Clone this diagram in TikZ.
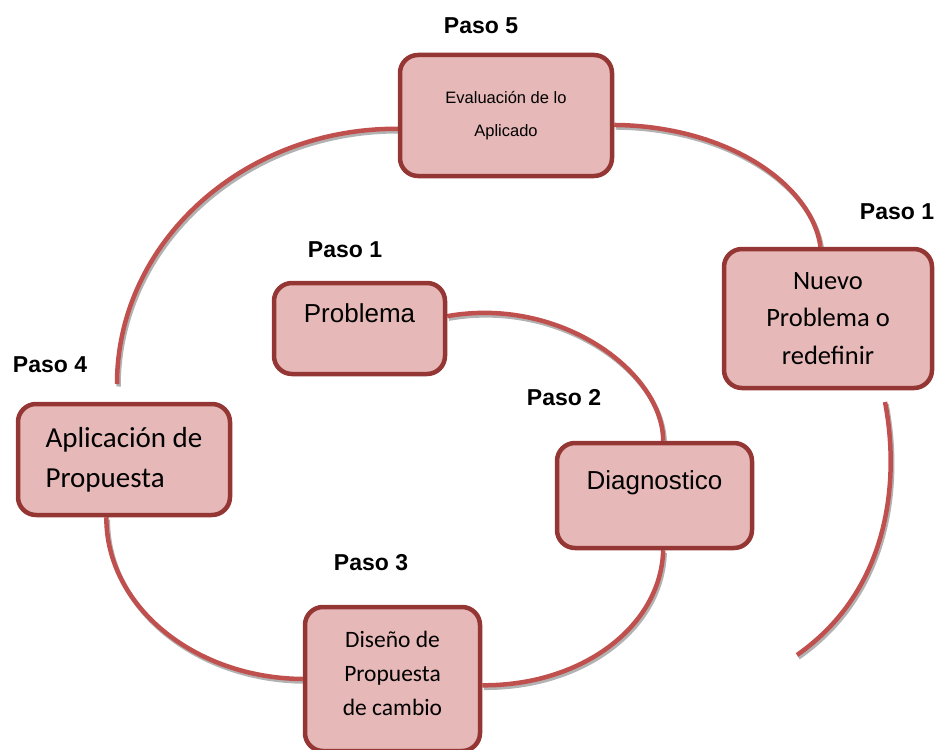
\documentclass[tikz,border=0pt]{standalone}
\usepackage{fontspec}
\setmainfont{Liberation Sans}
\newfontfamily\carlito{Carlito}
\usetikzlibrary{backgrounds}
\definecolor{fond}{RGB}{230, 184, 183}
\definecolor{bord}{RGB}{148, 54, 52}
\definecolor{trait}{RGB}{192, 80, 77}

\begin{document}
\begin{tikzpicture}[x=1pt,y=-1pt,
	boite/.style={draw=bord,fill=fond,line width=4.5pt,rounded corners=18pt,inner sep=0pt,align=center},
	lien/.style={draw=trait,line width=4.5pt,preaction={draw=black!30,line width=4.5pt,transform canvas={shift={(1.5pt,-2.5pt)}}}},
	paso/.style={font=\fontsize{23}{27}\selectfont\bfseries}]
			\useasboundingbox (0,0) rectangle (936,749); % marges de l'image
			\node[boite,minimum width=212pt,minimum height=121pt,font=\fontsize{16.5}{33}\selectfont] (eval) at (506,115.5) {Evaluación de lo\\Aplicado};
			\node[boite,minimum width=171pt,minimum height=91pt,font=\fontsize{26}{30}\selectfont] (prob) at (359.5,328.5) {Problema\\\mbox{}};
			\node[boite,minimum width=195pt,minimum height=105pt,font=\fontsize{26}{30}\selectfont] (diag) at (654.5,495.5) {Diagnostico\\\mbox{}};
			\node[boite,text depth=11pt,minimum width=175pt,minimum height=144pt,font=\carlito\fontsize{23.5}{34}\selectfont] (dis) at (392.5,679) {Diseño de\\Propuesta\\de cambio};
			\node[boite,align=left,minimum width=212pt,minimum height=111pt,font=\carlito\fontsize{29}{40}\selectfont] (apl) at (124,459.5) {Aplicación de\\Propuesta};
			\node[boite,minimum width=208pt,minimum height=139pt,font=\carlito\fontsize{26.5}{37.5}\selectfont] (nuevo) at (828,318.5) {Nuevo\\Problema o\\redefinir};
			\node[paso] (p5) at (481,26) {Paso 5};
			\node[paso] (p1n) at (897,212) {Paso 1};
			\node[paso] (p1) at (345,250) {Paso 1};
			\node[paso] (p4) at (50,365) {Paso 4};
			\node[paso] (p2) at (564,398) {Paso 2};
			\node[paso] (p3) at (371,563) {Paso 3};
			\coordinate (h4) at (117,384);
			\coordinate (r1) at (885,402);
			\coordinate (r2) at (797,655);
			\begin{scope}[on background layer]
			\draw[lien] (prob.8) .. controls (560,296) and (663,372) .. (diag.81);
			\draw[lien] (diag.-81) .. controls (661,627) and (581,686) .. (dis.-4);
			\draw[lien] (dis.west) .. controls (194,678) and (106,606) .. (apl.-107);
			\draw[lien] (h4) .. controls (117,243) and (243,128) .. (eval.-173);
			\draw[lien] (eval.-5) .. controls (728,126) and (812,185) .. (nuevo.96);
			\draw[lien] (r1) .. controls (900,480) and (890,590) .. (r2); % retour au debut
			\end{scope}
			\end{tikzpicture}
\end{document}
